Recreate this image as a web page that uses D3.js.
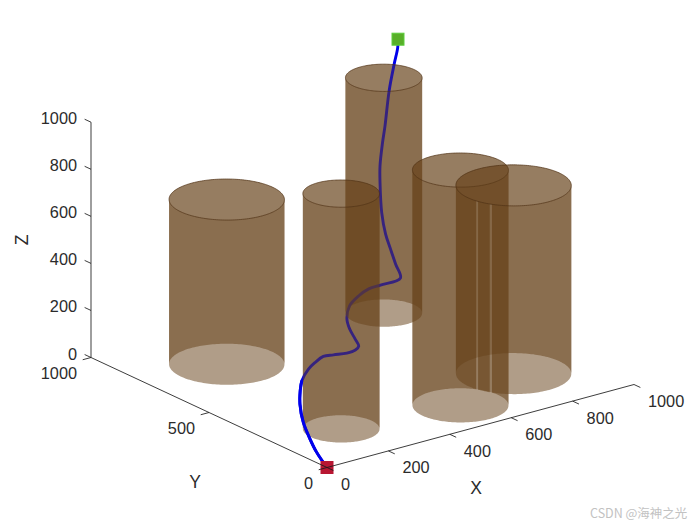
<!DOCTYPE html>
<html>
<head>
<meta charset="utf-8">
<script src="https://cdn.jsdelivr.net/npm/d3@7/dist/d3.min.js"></script>
<style>
html,body{margin:0;padding:0;background:#fff;}
svg{display:block;}
text{font-family:"Liberation Sans",Arial,sans-serif;fill:#2b2b2b;}
</style>
</head>
<body>
<svg id="chart" width="700" height="525"></svg>
<script>
// ---- data ----
const xTicks = [0, 200, 400, 600, 800, 1000];
const yTicks = [0, 500, 1000];
const zTicks = [0, 200, 400, 600, 800, 1000];

const cylX = [250, 200, 800, 550, 800];
const cylY = [750, 200, 800, 150, 250];
const cylR = [149, 99, 99, 124, 149];
const cylH = [700, 1000, 1000, 1000, 800];

const pathX = [0, 9, 22, 41, 71, 98, 121, 158, 185, 214, 238, 269, 293, 307, 314, 323, 337, 369, 408, 442, 474, 529, 547, 566, 586, 621, 677, 710, 762, 800, 878, 942, 982, 1000];
const pathY = [0, 56, 101, 154, 207, 241, 264, 284, 291, 294, 282, 266, 261, 265, 289, 324, 354, 384, 396, 398, 390, 377, 421, 467, 514, 576, 656, 699, 756, 795, 879, 941, 978, 1000];
const pathZ = [0, 36, 67, 106, 148, 179, 203, 230, 245, 259, 263, 267, 274, 283, 300, 323, 347, 378, 401, 417, 426, 442, 475, 510, 545, 595, 665, 704, 758, 797, 879, 941, 980, 1000];

// the two thin facets of the last cylinder's front wall (degrees across the front)
const facetStrips = [[112, 114.5], [128, 130.5]];

// ---- projection ----
const origin = [327, 467.5];
const hX = d3.scaleLinear().domain([0, 1000]).range([0, 307]);
const hY = d3.scaleLinear().domain([0, 1000]).range([0, -236]);
const vX = d3.scaleLinear().domain([0, 1000]).range([0, -83]);
const vY = d3.scaleLinear().domain([0, 1000]).range([0, -110]);
const vZ = d3.scaleLinear().domain([0, 1000]).range([0, -235.3]);
const proj = (x, y, z) => [origin[0] + hX(x) + hY(y), origin[1] + vX(x) + vY(y) + vZ(z)];

const svg = d3.select("#chart");
const wallFill = "rgb(104,67,27)";
const wallAlpha = 0.52, capAlpha = 0.35;
const line = d3.line();
const a0 = Math.atan2(hY(1000), hX(1000)) * 180 / Math.PI;

function rim(i, z, t0, t1) {          // t: degrees across the silhouette, 0 = right edge
  const n = Math.max(2, Math.ceil(Math.abs(t1 - t0) / 2));
  return d3.range(n + 1).map(k => {
    const t = t0 + (t1 - t0) * k / n;
    const a = (a0 - t) * Math.PI / 180;
    return proj(cylX[i] + cylR[i] * Math.cos(a), cylY[i] + cylR[i] * Math.sin(a), z);
  });
}
const wall = (i, t0, t1) => line(rim(i, cylH[i], t0, t1).concat(rim(i, 0, t1, t0))) + "Z";

// back walls
const gBack = svg.append("g");
cylX.forEach((_, i) => gBack.append("path").attr("d", wall(i, 180, 360))
  .attr("fill", wallFill).attr("fill-opacity", wallAlpha));

// whole route, seen through the front walls
const route = d3.line().curve(d3.curveCatmullRom.alpha(0.5));
const routePts = pathX.map((x, i) => proj(x, pathY[i], pathZ[i]));
const routeColor = "rgb(0,0,235)";
svg.append("path").attr("d", route(routePts)).attr("fill", "none")
  .attr("stroke", routeColor).attr("stroke-width", 2.9);

// front walls
const gFront = svg.append("g");
const lastCyl = cylX.length - 1;
cylX.forEach((_, i) => {
  if (i !== lastCyl) {
    gFront.append("path").attr("d", wall(i, 0, 180)).attr("fill", wallFill).attr("fill-opacity", wallAlpha);
  } else {
    let from = 0;
    facetStrips.forEach(s => {
      gFront.append("path").attr("d", wall(i, from, s[0])).attr("fill", wallFill).attr("fill-opacity", wallAlpha);
      gFront.append("path").attr("d", wall(i, s[0], s[1])).attr("fill", "#fff").attr("fill-opacity", 0.1);
      from = s[1];
    });
    gFront.append("path").attr("d", wall(i, from, 180)).attr("fill", wallFill).attr("fill-opacity", wallAlpha);
  }
});

// top caps
cylX.forEach((_, i) => svg.append("path").attr("d", line(rim(i, cylH[i], 0, 360)) + "Z")
  .attr("fill", wallFill).attr("fill-opacity", capAlpha)
  .attr("stroke", "rgb(80,50,22)").attr("stroke-width", 0.7));

// part of the route in front of everything
svg.append("path").attr("d", route(routePts.slice(0, 7))).attr("fill", "none")
  .attr("stroke", routeColor).attr("stroke-width", 2.9);

// start / end markers
const marker = (p, fill, stroke) => svg.append("rect")
  .attr("x", p[0] - 6).attr("y", p[1] - 6).attr("width", 12).attr("height", 12)
  .attr("fill", fill).attr("stroke", stroke).attr("stroke-width", 1);
marker(routePts[0], "rgb(184,22,50)", "rgb(184,22,50)");
marker(routePts[routePts.length - 1], "rgb(88,175,40)", "rgb(92,205,60)");

// axes
const gAxis = svg.append("g").attr("stroke", "#1a1a1a").attr("stroke-width", 0.85).attr("fill", "none");
const seg = (a, b) => gAxis.append("line").attr("x1", a[0]).attr("y1", a[1]).attr("x2", b[0]).attr("y2", b[1]);
seg(proj(0, 0, 0), proj(1000, 0, 0));
seg(proj(0, 0, 0), proj(0, 1000, 0));
seg(proj(0, 1000, 0), proj(0, 1000, 1000));
const tickLen = 27;
const label = (s, x, y, anchor) => svg.append("text").attr("x", x).attr("y", y)
  .attr("text-anchor", anchor).attr("dominant-baseline", "central").attr("font-size", 16.3).text(s);

xTicks.forEach(v => {
  seg(proj(v, 0, 0), proj(v, -tickLen, 0));
  const p = proj(v, 0, 0);
  label(v, p[0] + 14, p[1] + 16.5, "start");
});
yTicks.forEach(v => {
  seg(proj(0, v, 0), proj(-tickLen, v, 0));
  const p = proj(0, v, 0);
  label(v, p[0] - 14, p[1] + 15.5, "end");
});
zTicks.forEach(v => {
  seg(proj(0, 1000, v), proj(0, 1000 + tickLen, v));
  const p = proj(0, 1000, v);
  label(v, p[0] - 14, p[1] - 4, "end");
});

const axisLabel = (s, x, y, rot) => svg.append("text").attr("transform", `translate(${x},${y}) rotate(${rot})`)
  .attr("text-anchor", "middle").attr("dominant-baseline", "central").attr("font-size", 17.5).text(s);
axisLabel("X", 476, 488, 0);
axisLabel("Y", 195, 482, 0);
axisLabel("Z", 22, 240, -90);

// watermark
svg.append("text").attr("x", 590).attr("y", 512).attr("dominant-baseline", "central")
  .attr("font-size", 12.5).style("font-family", '"Noto Sans CJK SC","Liberation Sans",sans-serif')
  .style("fill", "#c2c2c2").text("CSDN @海神之光");
</script>
</body>
</html>
